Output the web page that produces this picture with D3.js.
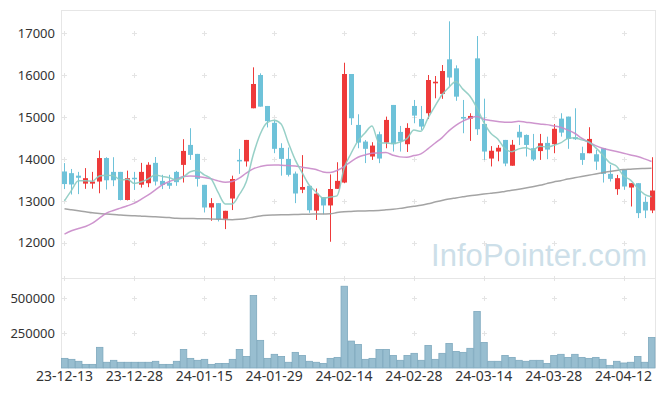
<!DOCTYPE html>
<html>
<head>
<meta charset="utf-8" />
<style>
    body { margin: 0; background: #fff; }
    text { font-family: "Noto Sans", sans-serif; fill: #333; }
    .grid path { stroke: #e4e4e4; stroke-width: 1; fill: none; }
    .frame line { stroke: #e6e6e6; stroke-width: 1; }
</style>
</head>
<body>
<svg width="665" height="396"></svg>
<script src="https://d3js.org/d3.v7.min.js"></script>
<script>

var dates = ["23-12-13","23-12-14","23-12-15","23-12-18","23-12-19","23-12-20","23-12-21","23-12-22","23-12-26","23-12-27",
    "23-12-28","24-01-02","24-01-03","24-01-04","24-01-05","24-01-08","24-01-09","24-01-10","24-01-11","24-01-12",
    "24-01-15","24-01-16","24-01-17","24-01-18","24-01-19","24-01-22","24-01-23","24-01-24","24-01-25","24-01-26",
    "24-01-29","24-01-30","24-01-31","24-02-01","24-02-02","24-02-05","24-02-06","24-02-07","24-02-08","24-02-13",
    "24-02-14","24-02-15","24-02-16","24-02-19","24-02-20","24-02-21","24-02-22","24-02-23","24-02-26","24-02-27",
    "24-02-28","24-02-29","24-03-04","24-03-05","24-03-06","24-03-07","24-03-08","24-03-11","24-03-12","24-03-13",
    "24-03-14","24-03-15","24-03-18","24-03-19","24-03-20","24-03-21","24-03-22","24-03-25","24-03-26","24-03-27",
    "24-03-28","24-03-29","24-04-01","24-04-02","24-04-03","24-04-04","24-04-05","24-04-08","24-04-09","24-04-11",
    "24-04-12","24-04-15","24-04-16","24-04-17","24-04-18"];

var open = [13700,13660,13600,13410,13410,13460,14020,13690,13690,13020,
    13550,13385,13420,13905,13475,13430,13690,13857,14333,14119,
    13381,12841,12945,12571,13055,13976,13940,15207,16000,15262,
    14860,14262,14000,13650,13265,13357,12766,13088,12890,13286,
    13436,16024,14810,14413,14056,14588,14389,15286,14643,14350,
    15262,14952,15088,15802,15550,16374,16159,15000,14960,16397,
    14833,14008,14175,14452,13837,14646,14571,14254,14186,14381,
    14350,14960,15008,14516,14137,14135,14110,14254,13643,13278,
    13738,13317,13421,12976,12770];

var high = [13900,13760,13690,13780,13690,14200,14040,14040,13690,13720,
    13690,13905,13920,14045,13620,13620,13714,14470,14731,14119,
    13381,13064,12945,12762,13600,14238,14452,16183,16040,15262,
    14910,14373,14270,13698,14090,13357,13294,13088,13630,13920,
    16293,16024,15064,14450,14398,14650,15008,15286,14786,14850,
    15405,15262,16000,15976,16238,17280,16230,15405,15088,16929,
    15436,14305,14330,14452,14452,14810,14583,14595,14595,14530,
    14830,15088,15008,15207,14290,14755,14214,14254,13857,13619,
    13738,13421,13421,13103,14040];

var low = [13280,13150,13160,13286,13290,13180,13270,13350,13010,13010,
    13260,13315,13325,13365,13280,13285,13357,13436,13976,13340,
    12722,12524,12508,12326,12780,13643,13817,15207,15246,14750,
    14136,13600,13580,12945,13183,12715,12544,12680,12024,13286,
    13420,14810,14254,13900,13976,13898,14254,14175,14175,14165,
    14850,14690,14952,15445,15432,15740,15385,14612,14429,14571,
    13976,13820,13944,13825,13837,14330,14056,13948,13976,13993,
    14135,14531,14240,14452,13857,14135,13738,13436,13460,13143,
    13262,12865,12588,12588,12707];

var close = [13400,13390,13550,13540,13460,14020,13490,13490,13020,13540,
    13520,13690,13860,13460,13380,13360,13445,14190,14095,13524,
    12841,12945,12564,12762,13520,13940,14452,15786,15246,14900,
    14240,14000,13620,13175,13330,12775,13170,12890,13282,13476,
    16024,14969,14389,14240,14317,14008,14929,14350,14421,14738,
    15032,14770,15881,15840,16095,15940,15484,14960,15024,14707,
    14175,14194,14266,13889,14337,14511,14333,13985,14373,14222,
    14718,14627,14476,14469,13976,14476,13936,13643,13524,13540,
    13341,13421,12707,12770,13246];

var volume = [69000,62000,48000,26000,26000,148000,41000,55000,41000,41000,
    41000,41000,41000,48000,26000,26000,48000,133000,69000,55000,
    62000,26000,33000,33000,62000,133000,83000,519000,198000,69000,
    98000,83000,41000,112000,90000,48000,41000,33000,69000,76000,
    586000,193000,169000,62000,69000,133000,133000,90000,55000,90000,
    105000,55000,162000,62000,105000,176000,119000,112000,141000,405000,
    183000,48000,48000,90000,76000,55000,48000,55000,55000,33000,
    90000,98000,76000,98000,76000,69000,76000,62000,19000,48000,
    36000,41000,83000,41000,219000];

var ma5 = [13000,13250,13476,13476,13468,13592,13612,13601,13497,13513,
    13413,13453,13526,13613,13582,13550,13501,13567,13694,13723,
    13619,13519,13194,12927,12926,13146,13447,14091,14588,14863,
    14922,14832,14399,13983,13673,13378,13212,13067,13090,13118,
    13770,14129,14429,14619,14787,14384,14376,14365,14402,14484,
    14689,14657,14967,15251,15524,15705,15847,15663,15500,15222,
    14870,14611,14473,14248,14173,14239,14268,14209,14304,14281,
    14322,14381,14483,14502,14454,14406,14268,14100,13911,13824,
    13597,13494,13307,13156,13097];

var ma20 = [12207,12286,12340,12388,12468,12587,12707,12770,12826,12881,
    12945,13040,13143,13262,13381,13460,13516,13580,13595,13580,
    13556,13524,13476,13445,13460,13540,13659,13762,13817,13849,
    13857,13849,13841,13833,13802,13778,13746,13690,13675,13722,
    13817,13937,14040,14095,14135,14143,14150,14088,14048,14040,
    14079,14119,14238,14373,14500,14667,14800,14900,14969,15008,
    14945,14913,14889,14873,14876,14897,14876,14857,14833,14817,
    14786,14754,14690,14611,14492,14397,14317,14254,14214,14175,
    14135,14095,14056,14000,13937];

var ma60 = [12810,12786,12762,12740,12715,12700,12685,12675,12660,12650,
    12643,12635,12628,12620,12611,12600,12585,12580,12578,12575,
    12572,12568,12563,12555,12550,12560,12580,12610,12640,12655,
    12662,12667,12670,12675,12678,12682,12685,12688,12690,12720,
    12740,12748,12755,12760,12765,12772,12785,12800,12820,12845,
    12870,12895,12930,12970,13010,13045,13070,13095,13120,13140,
    13160,13180,13200,13225,13250,13278,13305,13335,13370,13410,
    13450,13480,13520,13550,13580,13610,13640,13670,13700,13725,
    13745,13755,13765,13770,13775];

var priceTicks = [12000, 13000, 14000, 15000, 16000, 17000];
var volumeTicks = [250000, 500000];
var dateTicks = dates.filter(function (d, i) { return i % 10 === 0; });

var svg = d3.select("svg");
var plotLeft = 61, plotRight = 655, plotTop = 10, plotSplit = 278, plotBottom = 368;

var x = d3.scaleBand().domain(dates).range([plotLeft, plotRight]);
var y = d3.scaleLinear().domain([11160, 17550]).range([plotSplit, plotTop]);
var yv = d3.scaleLinear().domain([0, 645000]).range([plotBottom, plotSplit]);
var bw = x.bandwidth();
function cx(i) { return x(dates[i]) + bw / 2; }

// frame
var frame = svg.append("g").attr("class", "frame");
frame.append("line").attr("x1", plotLeft).attr("x2", plotRight).attr("y1", plotTop + 0.5).attr("y2", plotTop + 0.5);
frame.append("line").attr("x1", plotLeft).attr("x2", plotRight).attr("y1", plotSplit + 0.5).attr("y2", plotSplit + 0.5);
frame.append("line").attr("x1", plotLeft + 0.5).attr("x2", plotLeft + 0.5).attr("y1", plotTop).attr("y2", plotBottom);
frame.append("line").attr("x1", plotRight + 0.5).attr("x2", plotRight + 0.5).attr("y1", plotTop).attr("y2", plotBottom);

// "+" marks at grid crossings
var gridY = priceTicks.map(function (v) { return y(v); })
    .concat([plotSplit])
    .concat(volumeTicks.map(function (v) { return yv(v); }));
var crosses = [];
dateTicks.forEach(function (d) {
    gridY.forEach(function (gy) { crosses.push([x(d) + bw / 2, gy]); });
});
svg.append("g").attr("class", "grid")
    .selectAll("path")
    .data(crosses)
    .enter().append("path")
    .attr("d", function (c) {
        var px = Math.round(c[0]) + 0.5, py = Math.round(c[1]) + 0.5;
        return "M" + (px - 2.5) + "," + py + "H" + (px + 2.5) + "M" + px + "," + (py - 2.5) + "V" + (py + 2.5);
    });

// watermark
svg.append("text")
    .attr("x", 431)
    .attr("y", 266)
    .attr("textLength", 216)
    .style("font-family", "'Liberation Sans', Arial, sans-serif")
    .style("font-size", "31px")
    .style("fill", "#cddfe9")
    .text("InfoPointer.com");

// volume bars
svg.append("g")
    .selectAll("rect")
    .data(volume)
    .enter().append("rect")
    .attr("x", function (d, i) { return x(dates[i]) + 0.5; })
    .attr("width", bw - 0.5)
    .attr("y", function (d) { return yv(d); })
    .attr("height", function (d) { return plotBottom - yv(d); })
    .attr("fill", "#98bed0")
    .attr("stroke", "#7ea9be")
    .attr("stroke-width", 0.8);

// candles
var idx = d3.range(dates.length);
function colorOf(i) { return close[i] >= open[i] ? "#ee3a3a" : "#6ec2d9"; }
var candle = svg.append("g").selectAll("g")
    .data(idx)
    .enter().append("g");

candle.append("line")
    .attr("x1", function (i) { return Math.round(cx(i)) + 0.5; })
    .attr("x2", function (i) { return Math.round(cx(i)) + 0.5; })
    .attr("y1", function (i) { return y(high[i]); })
    .attr("y2", function (i) { return y(low[i]); })
    .attr("stroke", colorOf)
    .attr("stroke-width", 1);

candle.append("rect")
    .attr("x", function (i) { return Math.round(cx(i)) - 2; })
    .attr("width", 5)
    .attr("y", function (i) { return y(Math.max(open[i], close[i])); })
    .attr("height", function (i) { return Math.max(1.5, Math.abs(y(open[i]) - y(close[i]))); })
    .attr("fill", colorOf);

// moving averages
var line = d3.line()
    .x(function (d, i) { return cx(i); })
    .y(function (d) { return y(d); })
    .curve(d3.curveMonotoneX);

[[ma60, "#9a9a9a"], [ma20, "#c98ac9"], [ma5, "#8ccbc1"]].forEach(function (s) {
    svg.append("path")
        .datum(s[0])
        .attr("d", line)
        .attr("fill", "none")
        .attr("stroke", s[1])
        .attr("stroke-width", 1.5)
        .attr("opacity", 0.9);
});

// axes
var ay = svg.append("g")
    .attr("transform", "translate(" + plotLeft + ",0)")
    .call(d3.axisLeft(y).tickValues(priceTicks).tickSize(0).tickPadding(6).tickFormat(d3.format("d")));
var av = svg.append("g")
    .attr("transform", "translate(" + plotLeft + ",0)")
    .call(d3.axisLeft(yv).tickValues(volumeTicks).tickSize(0).tickPadding(6).tickFormat(d3.format("d")));
var ax = svg.append("g")
    .attr("transform", "translate(0," + plotBottom + ")")
    .call(d3.axisBottom(x).tickValues(dateTicks).tickSize(0).tickPadding(3));

[ay, av, ax].forEach(function (a) {
    a.select(".domain").remove();
    a.selectAll("text").attr("fill", "#333").style("font-family", "'Noto Sans', sans-serif");
});
ay.selectAll("text").style("font-size", "13px");
av.selectAll("text").style("font-size", "13px");
ax.selectAll("text").style("font-size", "14px");

</script>
</body>
</html>
